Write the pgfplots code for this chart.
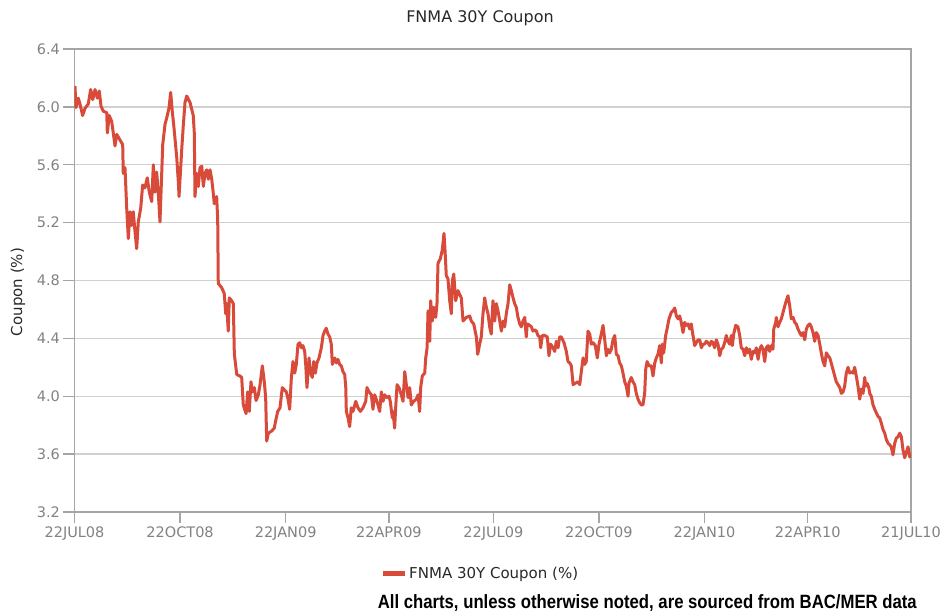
\documentclass[border=0pt]{standalone}
\usepackage{fontspec}
\setmainfont{DejaVu Sans}
\newfontfamily\footfont{Liberation Sans}
\usepackage{graphicx}
\usepackage{pgfplots}
\pgfplotsset{compat=1.18}
\definecolor{lineRed}{RGB}{216,74,58}
\definecolor{gridgray}{RGB}{208,208,208}
\definecolor{axisgray}{RGB}{165,165,165}
\definecolor{tickgray}{RGB}{130,130,130}
\definecolor{titlegray}{RGB}{40,40,40}
\begin{document}
\begin{tikzpicture}[x=1pt,y=1pt]
\useasboundingbox (0,0) rectangle (946,614);
\begin{axis}[
  at={(74.5pt,102pt)}, anchor=south west,
  scale only axis, width=836.5pt, height=463pt,
  xmin=0, xmax=729, ymin=3.2, ymax=6.4,
  xtick={0,92,184,274,365,457,549,639,729},
  xticklabels={22JUL08,22OCT08,22JAN09,22APR09,22JUL09,22OCT09,22JAN10,22APR10,21JUL10},
  ytick={3.2,3.6,4.0,4.4,4.8,5.2,5.6,6.0,6.4},
  yticklabel style={/pgf/number format/.cd, fixed, fixed zerofill, precision=1},
  /pgf/number format/assume math mode=true,
  ymajorgrids, grid style={draw=gridgray, line width=1.3pt},
  axis line style={draw=axisgray, line width=1.5pt},
  tick align=outside, tick pos=left, major tick length=11pt,
  tick style={draw=axisgray, line width=1.3pt},
  ticklabel style={font=\fontsize{14.5}{17}\selectfont, text=tickgray},
  legend style={at={(0.485,-0.132)}, anchor=center, draw=none, fill=none,
    font=\fontsize{15}{18}\selectfont, text=titlegray},
  legend cell align=left,
  legend image code/.code={\draw[#1, line width=5pt, line cap=butt] (0pt,0pt) -- (22pt,0pt);},
]
\addplot[color=lineRed, line width=3pt, line join=round] table {
0.4 6.145
1.3 5.995
3.3 6.06
4.8 6.02
7.1 5.94
9.2 5.99
12.0 6.02
14.1 6.12
15.9 6.05
17.9 6.12
19.9 6.06
21.6 6.11
23.1 6.005
25.1 5.97
28.1 5.96
28.6 5.82
30.3 5.94
32.4 5.90
33.8 5.82
35.3 5.73
36.8 5.81
39.7 5.77
42.0 5.74
42.5 5.54
44.0 5.58
45.5 5.30
46.9 5.09
48.4 5.275
49.8 5.18
51.2 5.275
52.7 5.14
54.2 5.02
55.6 5.205
57.7 5.30
59.4 5.46
61.4 5.44
63.4 5.51
65.2 5.41
67.3 5.345
68.7 5.60
70.2 5.41
71.6 5.55
73.0 5.41
74.5 5.205
76.9 5.74
78.9 5.88
80.4 5.925
82.4 5.995
83.8 6.10
85.2 5.97
86.7 5.855
89.1 5.65
90.5 5.48
91.1 5.38
93.4 5.70
94.8 5.87
96.3 6.03
97.8 6.075
100.7 6.03
103.5 5.94
104.4 5.82
105.0 5.38
106.5 5.54
107.9 5.45
109.4 5.58
110.9 5.59
112.3 5.45
113.7 5.54
115.2 5.565
116.6 5.50
118.1 5.565
119.6 5.50
121.0 5.40
121.8 5.33
123.9 5.38
124.8 5.22
125.3 4.78
128.3 4.75
130.5 4.71
131.8 4.57
132.6 4.64
134.0 4.45
134.9 4.68
137.0 4.66
138.4 4.64
139.3 4.29
141.4 4.15
144.2 4.14
145.7 4.13
147.1 3.94
149.5 3.88
150.9 4.03
152.3 3.895
153.8 4.10
155.0 4.03
156.7 4.06
158.2 3.97
160.2 4.01
161.7 4.08
163.7 4.21
165.4 4.10
166.6 3.99
167.5 3.69
168.9 3.745
171.9 3.76
174.1 3.78
175.3 3.83
177.1 3.895
179.1 3.92
181.1 4.06
184.6 4.03
186.1 3.98
187.5 3.91
189.0 4.13
190.4 4.24
191.9 4.16
193.3 4.22
194.8 4.36
196.3 4.37
197.7 4.335
199.1 4.35
200.6 4.31
201.5 4.22
202.6 4.06
204.4 4.265
205.5 4.17
207.2 4.13
208.5 4.24
209.9 4.16
211.3 4.23
213.1 4.265
215.1 4.335
216.6 4.42
218.0 4.45
219.4 4.47
220.9 4.43
222.4 4.41
223.8 4.36
224.7 4.22
226.8 4.265
228.2 4.23
229.6 4.255
231.1 4.22
232.5 4.21
234.0 4.17
235.5 4.15
236.4 4.06
236.9 3.895
238.4 3.85
239.8 3.79
241.2 3.92
242.7 3.895
245.1 3.965
247.1 3.92
249.1 3.895
251.4 3.92
253.8 3.965
254.9 4.06
256.7 4.03
258.7 4.01
260.1 3.91
261.6 4.01
263.6 3.965
266.0 3.895
267.4 4.03
268.9 3.965
270.3 4.01
272.3 3.99
274.1 4.00
275.2 3.965
277.0 3.85
277.6 3.895
279.0 3.78
279.9 3.92
281.1 4.08
282.8 4.06
284.8 4.01
286.3 3.965
287.8 4.17
289.2 4.08
290.7 3.99
292.1 4.06
293.5 3.94
295.6 3.965
297.9 3.98
299.4 4.01
300.8 3.895
301.7 4.06
303.1 4.14
305.2 4.16
306.1 4.265
307.3 4.335
308.1 4.59
309.6 4.38
310.4 4.66
311.8 4.52
313.0 4.615
314.8 4.545
315.9 4.64
316.8 4.92
318.8 4.95
320.5 5.01
322.0 5.125
322.9 5.01
324.0 4.835
325.5 4.81
327.0 4.66
328.4 4.57
329.3 4.80
330.5 4.845
332.2 4.66
334.2 4.73
337.1 4.68
338.6 4.52
341.5 4.545
344.4 4.555
345.8 4.52
347.9 4.50
350.2 4.41
351.4 4.29
353.1 4.36
354.5 4.41
356.0 4.57
357.5 4.68
358.9 4.615
360.4 4.57
361.8 4.48
363.2 4.43
364.7 4.66
366.2 4.52
367.6 4.64
369.1 4.59
370.6 4.52
372.0 4.45
373.4 4.52
374.9 4.48
376.3 4.57
377.8 4.64
379.3 4.77
380.7 4.73
382.2 4.68
383.6 4.64
385.0 4.615
386.5 4.545
388.0 4.50
389.4 4.48
390.9 4.52
392.4 4.545
393.7 4.41
394.6 4.50
396.7 4.49
398.1 4.48
399.6 4.45
401.1 4.46
402.5 4.45
403.9 4.42
405.4 4.41
406.3 4.335
407.7 4.42
409.8 4.42
412.0 4.41
413.5 4.28
415.0 4.36
417.0 4.335
418.5 4.31
419.9 4.38
421.4 4.335
422.8 4.41
424.2 4.41
426.6 4.37
428.6 4.31
430.1 4.24
431.6 4.23
433.0 4.21
434.5 4.08
436.4 4.09
438.8 4.10
440.3 4.08
441.7 4.17
443.2 4.265
444.6 4.22
446.0 4.24
447.5 4.45
449.0 4.43
450.4 4.36
451.9 4.37
453.9 4.35
455.6 4.265
457.1 4.36
459.1 4.43
460.6 4.49
462.1 4.39
463.5 4.28
464.9 4.325
466.4 4.30
467.8 4.325
469.3 4.39
470.8 4.42
472.2 4.29
473.7 4.28
475.1 4.23
476.6 4.21
478.0 4.16
479.5 4.10
480.9 4.07
482.4 4.00
483.2 4.09
485.2 4.13
486.7 4.10
488.2 4.08
489.6 4.02
491.1 3.98
492.6 3.955
494.0 3.94
495.4 3.94
496.9 4.02
497.8 4.185
499.0 4.24
500.7 4.21
502.7 4.21
504.2 4.14
505.7 4.23
507.0 4.265
508.5 4.29
510.0 4.35
511.4 4.23
512.3 4.36
513.5 4.30
515.2 4.42
516.4 4.465
518.1 4.535
520.1 4.58
521.6 4.59
523.1 4.61
524.5 4.555
526.0 4.535
527.4 4.555
528.8 4.51
530.3 4.44
531.8 4.51
533.2 4.49
534.7 4.50
536.1 4.465
537.5 4.50
539.0 4.42
540.5 4.35
541.9 4.37
543.4 4.39
544.9 4.39
546.3 4.335
547.7 4.36
549.2 4.36
550.6 4.38
552.1 4.37
553.6 4.35
555.0 4.38
556.4 4.37
557.9 4.335
559.3 4.39
560.8 4.36
562.3 4.28
563.7 4.325
565.1 4.335
566.6 4.37
568.0 4.42
569.5 4.38
571.0 4.36
572.4 4.42
573.3 4.35
574.5 4.43
576.2 4.49
578.2 4.48
579.7 4.42
581.1 4.335
582.6 4.325
584.1 4.28
585.5 4.335
586.9 4.30
588.4 4.325
589.8 4.255
591.3 4.31
592.8 4.30
594.2 4.335
595.7 4.255
597.2 4.325
598.6 4.35
600.0 4.325
601.5 4.24
602.9 4.335
604.4 4.35
605.9 4.31
607.3 4.35
608.7 4.325
609.4 4.465
611.1 4.51
611.6 4.545
613.1 4.48
614.6 4.51
616.0 4.535
617.5 4.58
619.0 4.625
620.3 4.66
621.8 4.695
623.3 4.625
624.7 4.535
626.2 4.545
627.7 4.51
629.0 4.50
630.5 4.465
632.0 4.44
633.4 4.42
634.9 4.44
636.4 4.39
637.8 4.465
639.3 4.49
640.8 4.50
642.1 4.48
643.6 4.44
645.1 4.38
646.5 4.44
648.0 4.42
649.5 4.36
650.8 4.30
652.3 4.24
653.8 4.21
655.2 4.30
656.7 4.28
658.2 4.265
659.5 4.23
661.0 4.185
662.5 4.14
663.9 4.10
665.4 4.08
666.9 4.06
668.3 4.02
669.8 4.03
671.2 4.07
672.6 4.16
674.1 4.20
675.6 4.16
677.0 4.17
678.5 4.16
679.9 4.20
681.3 4.14
682.8 4.07
684.3 3.98
685.7 4.05
687.2 4.02
688.7 4.13
689.5 4.07
690.7 4.09
692.2 4.06
693.0 4.02
694.4 4.00
695.9 3.94
697.4 3.91
698.8 3.885
700.3 3.86
701.7 3.85
703.1 3.815
704.6 3.77
706.1 3.745
707.5 3.70
709.0 3.675
710.4 3.665
711.8 3.65
713.3 3.595
714.8 3.675
716.2 3.71
717.7 3.72
719.2 3.745
720.6 3.72
722.0 3.63
723.5 3.575
724.9 3.61
726.4 3.65
727.9 3.58
729.0 3.61
};
\addlegendentry{FNMA 30Y Coupon (\%)}
\end{axis}
\node[text=titlegray, font=\fontsize{16}{19}\selectfont] at (480,596) {FNMA 30Y Coupon};
\node[text=titlegray, rotate=90, font=\fontsize{15}{18}\selectfont] at (18,322) {Coupon (\%)};
\node[anchor=base east, inner sep=0pt] at (917,6) {\scalebox{1}[1.15]{\resizebox{539pt}{!}{\footfont\bfseries\fontsize{15}{18}\selectfont All charts, unless otherwise noted, are sourced from BAC/MER data}}};
\end{tikzpicture}
\end{document}
